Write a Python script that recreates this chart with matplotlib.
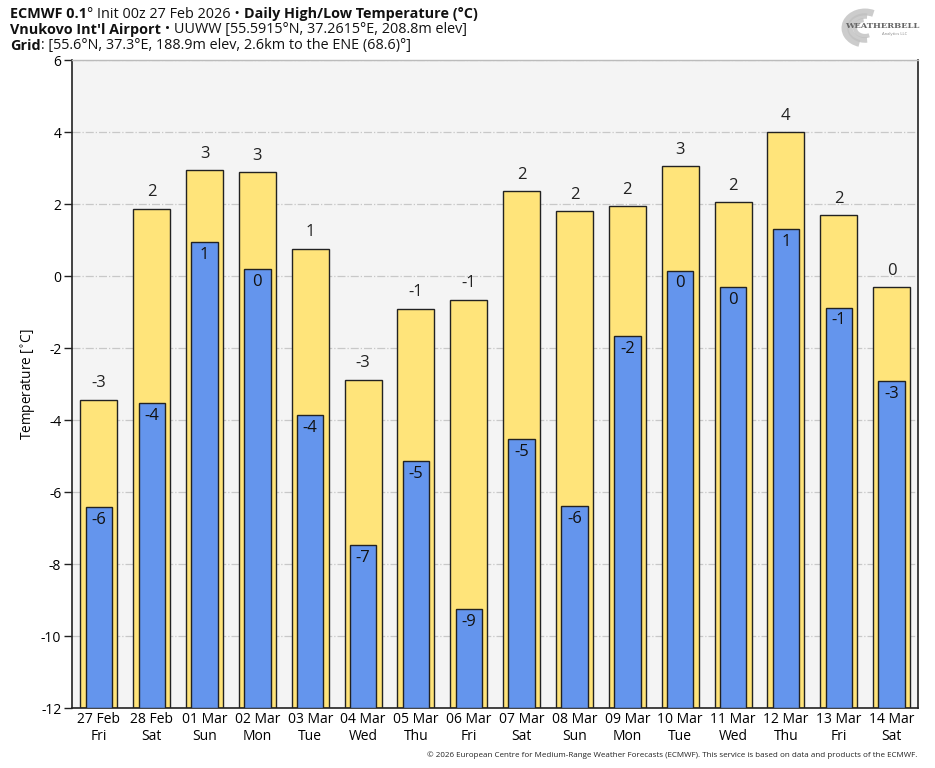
import matplotlib
matplotlib.use("Agg")
import matplotlib.pyplot as plt
from matplotlib.patches import Arc
import numpy as np

dates = ["27 Feb", "28 Feb", "01 Mar", "02 Mar", "03 Mar", "04 Mar", "05 Mar", "06 Mar",
         "07 Mar", "08 Mar", "09 Mar", "10 Mar", "11 Mar", "12 Mar", "13 Mar", "14 Mar"]
weekdays = ["Fri", "Sat", "Sun", "Mon", "Tue", "Wed", "Thu", "Fri",
            "Sat", "Sun", "Mon", "Tue", "Wed", "Thu", "Fri", "Sat"]
highs = [-3.43, 1.88, 2.94, 2.89, 0.77, -2.87, -0.90, -0.65,
         2.36, 1.80, 1.94, 3.05, 2.05, 4.00, 1.69, -0.31]
lows = [-6.41, -3.51, 0.96, 0.19, -3.85, -7.46, -5.13, -9.25,
        -4.52, -6.38, -1.65, 0.16, -0.29, 1.30, -0.87, -2.90]
yticks = [-12, -10, -8, -6, -4, -2, 0, 2, 4, 6]

plt.rcParams['font.family'] = ['Open Sans', 'DejaVu Sans']

fig = plt.figure(figsize=(9.35, 7.68), dpi=100)
ax = fig.add_axes([0.0775, 0.0777, 0.9818 - 0.0775, 0.9215 - 0.0777])
ax.set_facecolor('#f4f4f4')

x = np.arange(len(dates))
ymin = -12
hb = ax.bar(x, np.array(highs) - ymin, bottom=ymin, width=0.7, color='#ffe47a',
            edgecolor='#222222', linewidth=1.0, zorder=2)
lb = ax.bar(x, np.array(lows) - ymin, bottom=ymin, width=0.5, color='#6495ed',
            edgecolor='#222222', linewidth=1.0, zorder=3)

def fmt(v):
    r = int(round(v))
    return str(0 if r == 0 else r)

for xi, h in zip(x, highs):
    ax.annotate(fmt(h), (xi, h), xytext=(0, 6), textcoords='offset points',
                ha='center', va='bottom', fontsize=12, color='#222222', zorder=4)
for xi, l in zip(x, lows):
    ax.annotate(fmt(l), (xi, l), xytext=(0, -3.5), textcoords='offset points',
                ha='center', va='top', fontsize=12, color='#111111', zorder=4)

ax.set_xlim(-0.5, 15.5)
ax.set_ylim(-12, 6)
ax.set_yticks(yticks)
ax.set_yticklabels([str(t) for t in yticks], fontsize=10)
ax.set_xticks(x)
ax.set_xticklabels([f"{d}\n{w}" for d, w in zip(dates, weekdays)], fontsize=10,
                   linespacing=1.1)
ax.tick_params(axis='x', length=0, pad=3)
ax.tick_params(axis='y', length=6, width=1, color='#222222', pad=2)
ax.yaxis.grid(True, linestyle='-.', color='#c8c8c8', linewidth=0.9, zorder=0)
ax.set_axisbelow(True)
for s in ['left', 'right', 'bottom']:
    ax.spines[s].set_color('#222222')
    ax.spines[s].set_linewidth(1.2)
ax.spines['top'].set_color('#bbbbbb')
ax.spines['top'].set_linewidth(1.0)
ax.set_ylabel('Temperature [$^{\\circ}$C]', fontsize=9.8, labelpad=2)

# Header
fs = 10.4
t1 = [("ECMWF 0.1", 'bold'), ("° Init 00z 27 Feb 2026 • ", 'normal'),
      ("Daily High/Low Temperature (°C)", 'bold')]
t2 = [("Vnukovo Int'l Airport", 'bold'), (" • UUWW [55.5915°N, 37.2615°E, 208.8m elev]", 'normal')]
t3 = [("Grid", 'bold'), (": [55.6°N, 37.3°E, 188.9m elev, 2.6km to the ENE (68.6)°]", 'normal')]
renderer = fig.canvas.get_renderer()
for line, ypix in [(t1, 14), (t2, 30), (t3, 46)]:
    xpix = 10
    for txt, wt in line:
        t = fig.text(xpix / 935, 1 - ypix / 768, txt, fontsize=fs, fontweight=wt,
                     va='center', ha='left', color='#111111')
        bb = t.get_window_extent(renderer=renderer)
        xpix += bb.width

fig.text(917 / 935, 1 - 755 / 768,
         "© 2026 European Centre for Medium-Range Weather Forecasts (ECMWF). This service is based on data and products of the ECMWF.",
         fontsize=5.75, ha='right', va='center', color='#222222')

# Logo (approximation)
lax = fig.add_axes([835 / 935, 1 - 50 / 768, 85 / 935, 45 / 768])
lax.set_xlim(0, 85)
lax.set_ylim(0, 45)
lax.axis('off')
for r, a1, a2, lw in [(20, 60, 250, 5), (15, 80, 280, 4), (10, 100, 300, 3)]:
    lax.add_patch(Arc((30, 22), 2 * r, 1.6 * r, angle=0, theta1=a1, theta2=a2,
                      color='#c0c0c0', lw=lw, alpha=0.8))
lax.text(47, 24, "WEATHERBELL", fontsize=6, family='DejaVu Serif', fontweight='bold',
         color='#666666', ha='center', va='center')
lax.text(60, 16, "Analytics LLC", fontsize=3, color='#888888', ha='center', va='center')

fig.savefig('out.png', dpi=100)
